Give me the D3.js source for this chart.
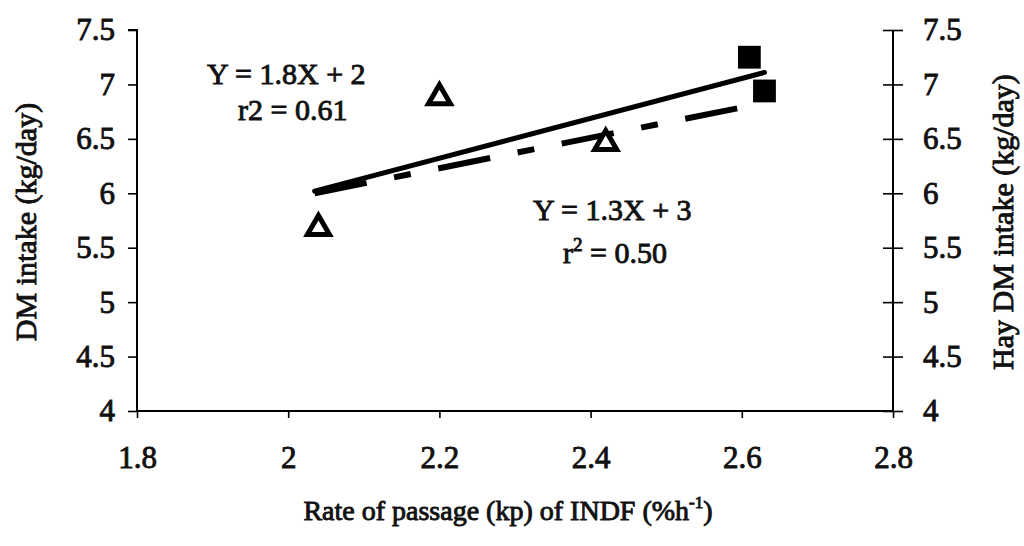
<!DOCTYPE html>
<html>
<head>
<meta charset="utf-8">
<script src="https://cdn.jsdelivr.net/npm/d3@7"></script>
<style>
  body { margin: 0; background: #fff; }
  svg text { font-family: "Liberation Serif", "DejaVu Serif", serif; fill: #111; }
</style>
</head>
<body>
<svg id="chart" width="1024" height="546"></svg>
<script>
// values
let xTicks = [1.8, 2, 2.2, 2.4, 2.6, 2.8]
let yTicks = [4, 4.5, 5, 5.5, 6, 6.5, 7, 7.5]

// open triangles
let kpTri = [2.04, 2.2, 2.42]
let intakeTri = [5.68, 6.88, 6.46]
// filled squares
let kpSq = [2.61, 2.63]
let intakeSq = [7.25, 6.94]

// fitted lines (end points)
let solidX = [2.035, 2.63]
let solidY = [6.02, 7.11]
let dashX = [2.035, 2.608]
let dashY = [6.0, 6.8]

let svg = d3.select("#chart")

let x = d3.scaleLinear().domain([1.8, 2.8]).range([137, 893])
let y = d3.scaleLinear().domain([4, 7.5]).range([411, 30])

let fmt = d => String(d)

// left axis
let gl = svg.append("g")
    .attr("transform", "translate(137,0)")
    .call(d3.axisLeft(y).tickValues(yTicks).tickFormat(fmt).tickSize(9).tickPadding(13))
// right axis
let gr = svg.append("g")
    .attr("transform", "translate(893,0)")
    .call(d3.axisRight(y).tickValues(yTicks).tickFormat(fmt).tickSize(10).tickPadding(20))
gr.selectAll(".tick line").attr("x1", -10)
// bottom axis
let gb = svg.append("g")
    .attr("transform", "translate(0,411)")
    .call(d3.axisBottom(x).tickValues(xTicks).tickFormat(fmt).tickSize(7).tickPadding(28))

svg.selectAll(".domain").attr("stroke", "#000").attr("stroke-width", 2)
svg.selectAll(".tick line").attr("stroke", "#000").attr("stroke-width", 1.6)
svg.selectAll(".tick text")
    .style("font-family", "'Liberation Serif', serif")
    .style("font-size", "31px")
    .style("fill", "#111")
    .style("stroke", "#111")
    .style("stroke-width", "0.9px")
gr.select(".domain").attr("d", "M0,30V411")
gl.select(".domain").attr("d", "M-9,30H0V411")
gb.select(".domain").attr("d", "M137,0H893")

// fit lines
let line = d3.line().x(d => x(d[0])).y(d => y(d[1]))

svg.append("path")
    .datum(d3.zip(dashX, dashY))
    .attr("d", line)
    .attr("fill", "none")
    .attr("stroke", "#000")
    .attr("stroke-width", 6)
    .attr("stroke-dasharray", "53,28,17,28")

svg.append("path")
    .datum(d3.zip(solidX, solidY))
    .attr("d", line)
    .attr("fill", "none")
    .attr("stroke", "#000")
    .attr("stroke-width", 5)
    .attr("stroke-linecap", "round")

// markers
svg.append("g")
    .selectAll("path")
    .data(d3.zip(kpTri, intakeTri))
    .enter()
    .append("path")
    .attr("d", d3.symbol().type(d3.symbolTriangle).size(210))
    .attr("transform", d => "translate(" + x(d[0]) + "," + y(d[1]) + ")")
    .attr("fill", "#fff")
    .attr("stroke", "#000")
    .attr("stroke-width", 5)

svg.append("g")
    .selectAll("path")
    .data(d3.zip(kpSq, intakeSq))
    .enter()
    .append("path")
    .attr("d", d3.symbol().type(d3.symbolSquare).size(520))
    .attr("transform", d => "translate(" + x(d[0]) + "," + y(d[1]) + ")")
    .attr("fill", "#000")

// labels
function label(txt, px, py, size, anchor, rot) {
    let t = svg.append("text")
        .attr("x", px)
        .attr("y", py)
        .style("font-size", size + "px")
        .attr("text-anchor", anchor)
        .style("stroke", "#111")
        .style("stroke-width", "0.9px")
    if (rot) t.attr("transform", "rotate(" + rot + "," + px + "," + py + ")")
    return t.text(txt)
}

label("Y = 1.8X + 2", 207, 84, 30, "start")
label("r2 = 0.61", 238, 120, 30, "start")
label("Y = 1.3X + 3", 533, 220, 30, "start")
let r2 = label("r", 563, 263, 30, "start")
r2.append("tspan").attr("dy", -12).style("font-size", "19px").text("2")
r2.append("tspan").attr("dy", 12).text(" = 0.50")

label("DM intake (kg/day)", 36, 222, 30, "middle", -90)
label("Hay DM intake (kg/day)", 1013, 222, 30, "middle", -90)

let xt = label("Rate of passage (kp) of INDF (%h", 508, 520, 28, "middle")
xt.append("tspan").attr("dy", -12).style("font-size", "17px").text("-1")
xt.append("tspan").attr("dy", 12).text(")")
</script>
</body>
</html>
